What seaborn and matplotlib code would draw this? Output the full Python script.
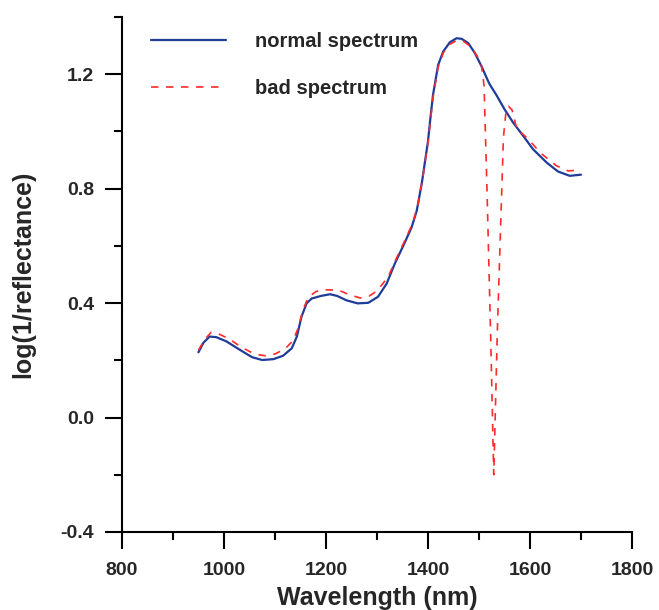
import numpy as np
import pandas as pd
import matplotlib
matplotlib.use("Agg")
import matplotlib.pyplot as plt
from matplotlib.ticker import MultipleLocator, FormatStrFormatter
import seaborn as sns

# --- data ---
normal_wl = [950, 960, 972, 985, 1005, 1030, 1055, 1075, 1097, 1116, 1133, 1143,
             1152, 1162, 1172, 1190, 1208, 1222, 1240, 1262, 1283, 1302, 1319,
             1335, 1352, 1368, 1378, 1388, 1400, 1405, 1410, 1420, 1430, 1443,
             1456, 1466, 1479, 1492, 1505, 1520, 1535, 1550, 1567, 1587, 1606,
             1633, 1655, 1678, 1700]
normal_val = [0.228, 0.262, 0.283, 0.281, 0.266, 0.238, 0.211, 0.201, 0.204, 0.216,
              0.242, 0.283, 0.352, 0.399, 0.416, 0.425, 0.431, 0.425, 0.410, 0.399,
              0.401, 0.422, 0.468, 0.538, 0.602, 0.665, 0.723, 0.820, 0.965, 1.050,
              1.129, 1.233, 1.280, 1.312, 1.326, 1.324, 1.309, 1.274, 1.228, 1.168,
              1.125, 1.078, 1.031, 0.984, 0.938, 0.891, 0.860, 0.845, 0.849]

bad_wl = [950, 962, 975, 990, 1010, 1035, 1060, 1080, 1100, 1120, 1135, 1145,
          1155, 1165, 1180, 1195, 1225, 1245, 1267, 1285, 1300, 1322, 1339, 1355,
          1370, 1380, 1390, 1400, 1410, 1420, 1430, 1443, 1456, 1470, 1485, 1497,
          1505, 1510, 1516, 1523, 1529, 1536, 1543, 1548, 1553, 1558, 1565, 1574,
          1597, 1620, 1652, 1675, 1700]
bad_val = [0.235, 0.272, 0.298, 0.292, 0.275, 0.245, 0.222, 0.216, 0.222, 0.240,
           0.268, 0.310, 0.375, 0.420, 0.440, 0.447, 0.445, 0.430, 0.418, 0.425,
           0.442, 0.492, 0.560, 0.620, 0.680, 0.740, 0.840, 0.960, 1.120, 1.225,
           1.275, 1.305, 1.318, 1.315, 1.295, 1.262, 1.230, 1.160, 0.780, 0.280,
           -0.200, 0.300, 0.700, 0.980, 1.070, 1.088, 1.075, 1.010, 0.973, 0.926,
           0.880, 0.862, 0.866]

normal_df = pd.DataFrame({"Wavelength": normal_wl, "value": normal_val})
bad_df = pd.DataFrame({"Wavelength": bad_wl, "value": bad_val})

# --- style ---
sns.set_style("ticks")
plt.rcParams["font.family"] = ["Liberation Sans", "DejaVu Sans"]
plt.rcParams["font.weight"] = "bold"

fig = plt.figure(figsize=(6.59, 6.10), dpi=100)
ax = fig.add_axes([0.185, 0.128, 0.774, 0.844])

sns.lineplot(data=normal_df, x="Wavelength", y="value", ax=ax,
             color="#1f3c98", lw=1.6, label="normal spectrum")
sns.lineplot(data=bad_df, x="Wavelength", y="value", ax=ax,
             color="#ff2a2a", lw=1.2, dashes=(4.5, 4.5), label="bad spectrum")

ax.set_xlim(800, 1800)
ax.set_ylim(-0.4, 1.4)
ax.xaxis.set_major_locator(MultipleLocator(200))
ax.xaxis.set_minor_locator(MultipleLocator(100))
ax.yaxis.set_major_locator(MultipleLocator(0.4))
ax.yaxis.set_minor_locator(MultipleLocator(0.2))
ax.yaxis.set_major_formatter(FormatStrFormatter("%.1f"))

for s in ["top", "right"]:
    ax.spines[s].set_visible(False)
for s in ["left", "bottom"]:
    ax.spines[s].set_linewidth(1.5)
    ax.spines[s].set_color("black")

ax.tick_params(which="major", direction="out", length=12, width=1.5,
               labelsize=14, color="black")
ax.tick_params(which="minor", direction="out", length=6, width=1.5, color="black")
ax.tick_params(axis="x", which="major", pad=10)
ax.tick_params(axis="y", which="major", pad=8)
for lab in ax.get_xticklabels() + ax.get_yticklabels():
    lab.set_fontweight("bold")

ax.set_xlabel("Wavelength (nm)", fontsize=18, fontweight="bold", labelpad=5)
ax.set_ylabel("log(1/reflectance)", fontsize=18, fontweight="bold", labelpad=18)

leg = ax.legend(loc="upper left", bbox_to_anchor=(0.037, 0.99), frameon=False,
                borderpad=0, handlelength=3.75, handletextpad=1.4,
                labelspacing=1.4, prop={"size": 14.5, "weight": "bold"})

fig.savefig("out.png", dpi=100)
